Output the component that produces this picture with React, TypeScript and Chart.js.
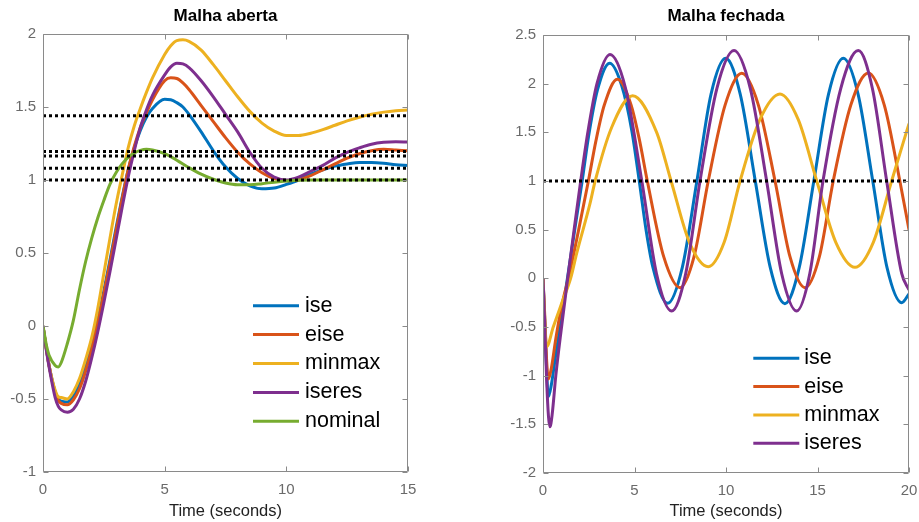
import React, { useEffect, useRef } from "react";
import { Chart, registerables } from "chart.js";

Chart.register(...registerables);

const FONT = '"Liberation Sans", Arial, Helvetica, sans-serif';

// ---------- Data: open loop (Malha aberta) ----------
const openTitle = "Malha aberta";
const openXTicks = [0, 15, 5]; // min, max, step
const openYTicks = [-1, 2, 0.5];
const openTime = [0, 0.15, 0.25, 0.5, 0.63, 0.75, 1, 1.25, 1.5, 1.75, 2, 2.25, 2.5, 2.75, 3, 3.25, 3.5, 3.75, 4, 4.25, 4.5, 5, 5.25, 5.5, 5.75, 6, 6.5, 7, 7.5, 8, 8.5, 9, 9.5, 10, 10.5, 11, 11.5, 12, 12.5, 13, 13.5, 14, 14.5, 15];
const openIse = [0, -0.17, -0.27, -0.45, -0.5, -0.515, -0.52, -0.48, -0.4, -0.28, -0.13, 0.04, 0.24, 0.45, 0.67, 0.88, 1.07, 1.22, 1.34, 1.43, 1.49, 1.553, 1.55, 1.53, 1.5, 1.45, 1.33, 1.2, 1.09, 1.01, 0.96, 0.94, 0.945, 0.97, 1.0, 1.04, 1.07, 1.095, 1.11, 1.12, 1.12, 1.115, 1.105, 1.1];
const openEise = [0, -0.17, -0.27, -0.46, -0.51, -0.53, -0.54, -0.505, -0.43, -0.31, -0.16, 0.02, 0.22, 0.43, 0.65, 0.87, 1.07, 1.23, 1.36, 1.46, 1.55, 1.68, 1.7, 1.695, 1.665, 1.62, 1.51, 1.4, 1.29, 1.19, 1.11, 1.05, 1.01, 0.995, 1.0, 1.03, 1.07, 1.11, 1.15, 1.18, 1.2, 1.21, 1.205, 1.2];
const openMinmax = [0, -0.17, -0.27, -0.44, -0.485, -0.49, -0.5, -0.45, -0.36, -0.23, -0.08, 0.12, 0.36, 0.6, 0.83, 1.03, 1.22, 1.37, 1.49, 1.6, 1.7, 1.86, 1.92, 1.955, 1.96, 1.95, 1.89, 1.79, 1.68, 1.57, 1.47, 1.39, 1.335, 1.305, 1.305, 1.32, 1.345, 1.375, 1.405, 1.43, 1.45, 1.465, 1.475, 1.48];
const openIseres = [0, -0.18, -0.28, -0.49, -0.55, -0.575, -0.59, -0.57, -0.5, -0.38, -0.22, -0.04, 0.16, 0.37, 0.59, 0.81, 1.02, 1.2, 1.36, 1.48, 1.58, 1.72, 1.775, 1.8, 1.795, 1.77, 1.68, 1.57, 1.45, 1.33, 1.19, 1.08, 1.02, 1.0, 1.02, 1.06, 1.1, 1.15, 1.19, 1.22, 1.245, 1.258, 1.262, 1.26];
const openNominal = [0, -0.14, -0.2, -0.27, -0.28, -0.25, -0.12, 0.04, 0.25, 0.44, 0.6, 0.74, 0.86, 0.97, 1.05, 1.11, 1.155, 1.185, 1.203, 1.21, 1.205, 1.18, 1.16, 1.135, 1.11, 1.085, 1.04, 1.005, 0.98, 0.968, 0.968, 0.975, 0.985, 0.993, 0.998, 1.0, 1.0, 1.0, 1.0, 1.0, 1.0, 1.0, 1.0, 1.0];
const openRefLevels = [1.44, 1.195, 1.165, 1.08, 1.0];

// ---------- Data: closed loop (Malha fechada) ----------
const closedTitle = "Malha fechada";
const closedXTicks = [0, 20, 5];
const closedYTicks = [-2, 2.5, 0.5];
const closedIseT = [0, 0.1, 0.2, 0.29, 0.45, 0.7, 1.0, 1.35, 1.75, 2.14, 2.5, 2.97, 3.64, 4.3, 4.85, 5.26, 5.63, 6.01, 6.81, 7.61, 8.41, 9.18, 9.98, 10.78, 11.6, 12.42, 13.22, 14.0, 14.8, 15.6, 16.41, 17.22, 18.02, 18.8, 19.6, 20];
const closedIseY = [0, -0.45, -0.95, -1.216, -1.1, -0.78, -0.42, 0.02, 0.52, 1.0, 1.47, 1.93, 2.21, 1.98, 1.52, 1.0, 0.5, 0.11, -0.257, 0.11, 1.0, 1.89, 2.26, 1.89, 1.0, 0.11, -0.26, 0.11, 1.0, 1.89, 2.26, 1.89, 1.0, 0.11, -0.25, -0.16];
const closedEiseT = [0, 0.1, 0.2, 0.29, 0.45, 0.7, 1.0, 1.45, 1.95, 2.48, 2.9, 3.35, 4.06, 4.8, 5.25, 5.7, 6.6, 7.49, 8.25, 9.03, 9.95, 10.86, 11.77, 12.68, 13.5, 14.32, 15.1, 15.86, 16.82, 17.78, 18.65, 19.5, 20];
const closedEiseY = [0, -0.4, -0.85, -1.035, -0.93, -0.62, -0.3, 0.05, 0.5, 1.0, 1.42, 1.78, 2.045, 1.79, 1.44, 1.0, 0.22, -0.096, 0.22, 1.0, 1.78, 2.106, 1.78, 1.0, 0.22, -0.096, 0.22, 1.0, 1.78, 2.11, 1.78, 1.0, 0.5];
const closedMinmaxT = [0, 0.08, 0.2, 0.56, 1.02, 1.51, 1.84, 2.57, 2.85, 3.75, 4.9, 6.21, 7.0, 8.0, 9.03, 9.9, 10.77, 11.85, 12.95, 13.95, 14.96, 16.0, 17.05, 18.05, 19.05, 20];
const closedMinmaxY = [0, -0.4, -0.7, -0.5, -0.257, 0, 0.257, 0.77, 1.0, 1.55, 1.876, 1.5, 1.0, 0.37, 0.12, 0.37, 1.0, 1.63, 1.894, 1.63, 1.0, 0.37, 0.113, 0.37, 1.0, 1.59];
const closedIseresT = [0, 0.1, 0.2, 0.3, 0.38, 0.5, 0.7, 1.0, 1.35, 1.7, 2.06, 2.45, 2.95, 3.66, 4.5, 5.4, 6.2, 7.03, 7.8, 8.58, 9.5, 10.44, 11.33, 12.22, 13.04, 13.86, 14.58, 15.3, 16.27, 17.23, 18.0, 18.78, 19.6, 20];
const closedIseresY = [0, -0.5, -1.05, -1.42, -1.525, -1.4, -1.0, -0.52, 0, 0.5, 1.0, 1.5, 2.0, 2.3, 1.96, 1.0, 0.05, -0.336, 0.05, 1.0, 1.95, 2.34, 1.95, 1.0, 0.05, -0.336, 0.05, 1.0, 1.95, 2.34, 1.95, 1.0, 0.05, -0.12];
const closedRefLevels = [1.0];

const seriesNames = ["ise", "eise", "minmax", "iseres", "nominal"];
const seriesColors = ["#0072BD", "#D95319", "#EDB120", "#7E2F8E", "#77AC30"];

const AXIS_COLOR = "#8a8a8a";
const TICK_COLOR = "#6a6a6a";

const matlabAxes = {
  id: "matlabAxes",
  afterDatasetsDraw(chart: any) {
    const { ctx, chartArea: a, scales } = chart;
    ctx.save();
    ctx.strokeStyle = AXIS_COLOR;
    ctx.lineWidth = 1;
    const L = Math.round(a.left) + 0.5, R = Math.round(a.right) - 0.5;
    const T = Math.round(a.top) + 0.5, B = Math.round(a.bottom) - 0.5;
    ctx.beginPath();
    ctx.rect(L, T, R - L, B - T);
    const tl = 5;
    for (const t of scales.x.ticks) {
      const x = Math.round(scales.x.getPixelForValue(t.value)) + 0.5;
      ctx.moveTo(x, B); ctx.lineTo(x, B - tl);
      ctx.moveTo(x, T); ctx.lineTo(x, T + tl);
    }
    for (const t of scales.y.ticks) {
      const y = Math.round(scales.y.getPixelForValue(t.value)) + 0.5;
      ctx.moveTo(L, y); ctx.lineTo(L + tl, y);
      ctx.moveTo(R, y); ctx.lineTo(R - tl, y);
    }
    ctx.stroke();
    ctx.restore();
  },
};

const insideLegend = {
  id: "insideLegend",
  afterDraw(chart: any, _args: any, opts: any) {
    const { ctx, chartArea: a } = chart;
    ctx.save();
    ctx.font = `${opts.fontSize}px ${FONT}`;
    ctx.textBaseline = "middle";
    ctx.textAlign = "left";
    let row = 0;
    chart.data.datasets.forEach((ds: any) => {
      if (!ds.label) return;
      const y = a.top + opts.dy + row * opts.rowHeight;
      const x0 = a.left + opts.dx;
      ctx.strokeStyle = ds.borderColor;
      ctx.lineWidth = 3;
      ctx.beginPath();
      ctx.moveTo(x0, y);
      ctx.lineTo(x0 + opts.lineLen, y);
      ctx.stroke();
      ctx.fillStyle = "#000";
      ctx.fillText(ds.label, x0 + opts.lineLen + opts.gap, y);
      row++;
    });
    ctx.restore();
  },
};

const fmt = (v: any) => String(Number(Number(v).toFixed(3)));

function makeConfig(p: any) {
  const curves = p.series.map((s: any, i: number) => ({
    label: s.name,
    data: s.t.map((t: number, k: number) => ({ x: t, y: s.y[k] })),
    borderColor: seriesColors[i],
    backgroundColor: seriesColors[i],
    borderWidth: 3,
    pointRadius: 0,
    cubicInterpolationMode: "monotone",
    fill: false,
    order: 10 - i,
  }));
  const dotted = p.refs.map((lv: number) => ({
    label: "",
    data: [{ x: p.xt[0], y: lv }, { x: p.xt[1], y: lv }],
    borderColor: "#000",
    borderWidth: 3,
    borderDash: [3, 3],
    borderCapStyle: "butt",
    pointRadius: 0,
    tension: 0,
    fill: false,
    order: 0,
  }));
  const tickFont = { family: FONT, size: 15 };
  return {
    type: "line",
    data: { datasets: [...curves, ...dotted] },
    plugins: [matlabAxes, insideLegend],
    options: {
      responsive: false,
      animation: false,
      events: [],
      layout: { padding: { left: p.padLeft, right: p.padRight, top: 0, bottom: 0 } },
      plugins: {
        legend: { display: false },
        tooltip: { enabled: false },
        title: {
          display: true,
          text: p.title,
          color: "#000",
          fullSize: false,
          font: { family: FONT, size: 17, weight: "bold", lineHeight: 1.2 },
          padding: { top: 6, bottom: p.titleBottom },
        },
        insideLegend: p.legend,
      },
      scales: {
        x: {
          type: "linear",
          min: p.xt[0],
          max: p.xt[1],
          grid: { display: false, drawTicks: false },
          border: { display: false },
          ticks: { stepSize: p.xt[2], font: tickFont, color: TICK_COLOR, padding: 9, maxRotation: 0, autoSkip: false, callback: fmt },
          title: {
            display: true,
            text: "Time (seconds)",
            color: "#222",
            font: { family: FONT, size: 16.5, lineHeight: 1.2 },
            padding: { top: 0, bottom: 1 },
          },
          afterFit: (s: any) => {
            s.height = p.xAxisH;
            s.paddingLeft = 0;
            s.paddingRight = 0;
          },
        },
        y: {
          type: "linear",
          min: p.yt[0],
          max: p.yt[1],
          grid: { display: false, drawTicks: false },
          border: { display: false },
          ticks: { stepSize: p.yt[2], font: tickFont, color: TICK_COLOR, padding: 7, autoSkip: false, callback: fmt },
          afterFit: (s: any) => { s.width = 43; },
        },
      },
    },
  };
}

const openParams = {
  title: openTitle,
  xt: openXTicks,
  yt: openYTicks,
  refs: openRefLevels,
  series: [openIse, openEise, openMinmax, openIseres, openNominal].map((y, i) => ({ name: seriesNames[i], t: openTime, y })),
  padLeft: 0,
  padRight: 52,
  titleBottom: 7.6,
  xAxisH: 50,
  legend: { dx: 210, dy: 271.7, rowHeight: 28.9, lineLen: 46, gap: 6, fontSize: 21.5 },
};

const closedParams = {
  title: closedTitle,
  xt: closedXTicks,
  yt: closedYTicks,
  refs: closedRefLevels,
  series: [
    { name: seriesNames[0], t: closedIseT, y: closedIseY },
    { name: seriesNames[1], t: closedEiseT, y: closedEiseY },
    { name: seriesNames[2], t: closedMinmaxT, y: closedMinmaxY },
    { name: seriesNames[3], t: closedIseresT, y: closedIseresY },
  ],
  padLeft: 40,
  padRight: 10,
  titleBottom: 8.6,
  xAxisH: 49,
  legend: { dx: 210.3, dy: 323.3, rowHeight: 28.3, lineLen: 46, gap: 5, fontSize: 21.5 },
};

function ChartCanvas({ params, left, width }: { params: any; left: number; width: number }) {
  const ref = useRef<HTMLCanvasElement | null>(null);
  useEffect(() => {
    if (!ref.current) return;
    const chart = new Chart(ref.current, makeConfig(params) as any);
    return () => chart.destroy();
  }, [params]);
  return (
    <canvas
      ref={ref}
      width={width}
      height={522}
      style={{ position: "absolute", left, top: 0, width, height: 522 }}
    />
  );
}

export default function App() {
  return (
    <div style={{ position: "absolute", left: 0, top: 0, width: 919, height: 522, background: "#fff" }}>
      <ChartCanvas params={openParams} left={0} width={460} />
      <ChartCanvas params={closedParams} left={460} width={459} />
    </div>
  );
}
